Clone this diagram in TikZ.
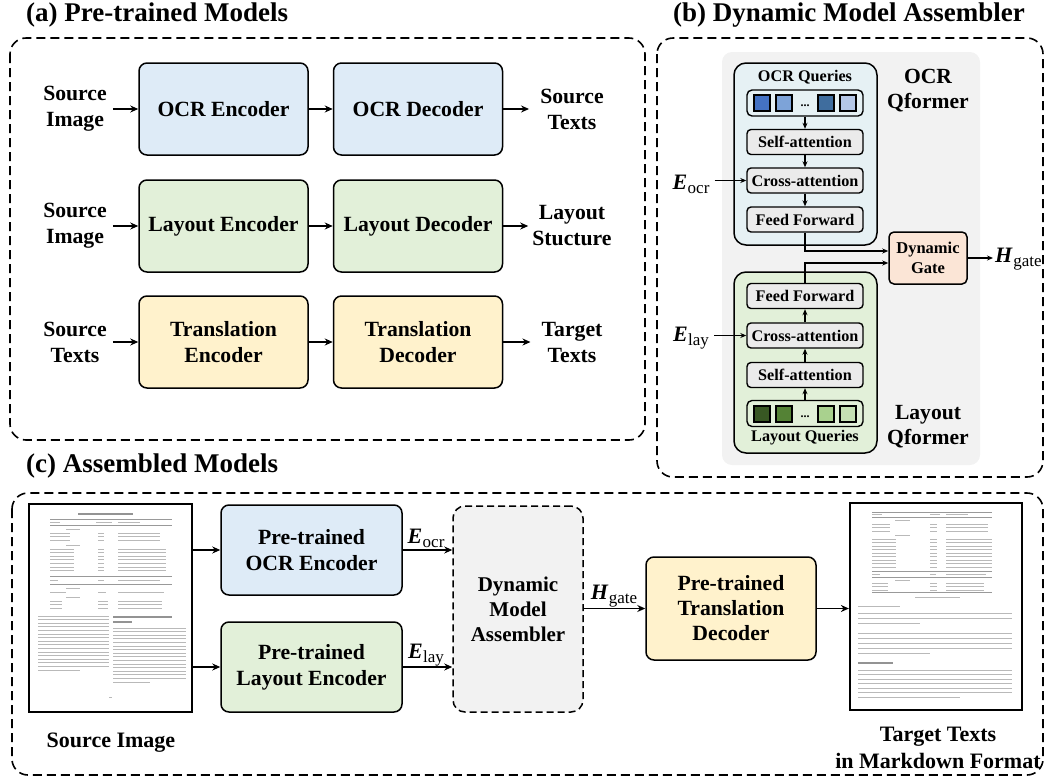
\documentclass[tikz,border=0pt]{standalone}
\usepackage{fontspec}
\setmainfont{Liberation Serif}[BoldFont={Liberation Serif Bold}, ItalicFont={Liberation Serif Italic}, BoldItalicFont={Liberation Serif Bold Italic}]
\usetikzlibrary{arrows.meta}
\definecolor{blueF}{HTML}{DEEBF7}
\definecolor{greenF}{HTML}{E2F0D9}
\definecolor{yellowF}{HTML}{FFF2CC}
\definecolor{grayF}{HTML}{F2F2F2}
\definecolor{ocrF}{HTML}{E6F1F4}
\definecolor{layerF}{HTML}{EBEBEB}
\definecolor{gateF}{HTML}{FBE5D6}
\definecolor{qbA}{HTML}{4472C4}
\definecolor{qbB}{HTML}{7DA3D8}
\definecolor{qbC}{HTML}{3F6D9E}
\definecolor{qbD}{HTML}{B4C7E7}
\definecolor{qgA}{HTML}{385723}
\definecolor{qgB}{HTML}{548235}
\definecolor{qgC}{HTML}{A9D18E}
\definecolor{qgD}{HTML}{C5E0B4}
\newcommand{\Elab}[1]{\textbf{\textit{E}}\kern0.5pt\raisebox{-4pt}{\fontsize{17}{17}\selectfont #1}}
\newcommand{\Hlab}[1]{\textbf{\textit{H}}\kern0.5pt\raisebox{-4pt}{\fontsize{17}{17}\selectfont #1}}
\newcommand{\rowsx}[5]{\foreach \k in {0,...,#4}{\draw[docl] (#1,{#3+\k*#5}) -- (#2,{#3+\k*#5});}}
\begin{document}
\begin{tikzpicture}[x=1pt,y=-1pt,
  frame/.style={draw=black, line width=1.6pt, dash pattern=on 9pt off 5pt, rounded corners=16pt},
  ttl/.style={font=\bfseries\fontsize{27}{30}\selectfont, anchor=west, inner sep=0pt},
  box/.style={draw=black, line width=1.5pt, rounded corners=8pt, align=center, inner sep=0pt, font=\bfseries\fontsize{21.7}{26}\selectfont},
  lbl/.style={align=center, inner sep=0pt, font=\bfseries\fontsize{21.7}{26}\selectfont},
  arr/.style={-{Stealth[length=8pt,width=7pt]}, line width=1.5pt},
  sarr/.style={-{Stealth[length=6pt,width=5pt]}, line width=1.3pt},
  layer/.style={draw=black, line width=1.4pt, rounded corners=4pt, fill=layerF, minimum width=116pt, minimum height=25pt, inner sep=0pt, font=\bfseries\fontsize{16.2}{18}\selectfont},
  qrow/.style={draw=black, line width=1.4pt, rounded corners=5pt, minimum width=116pt, minimum height=26pt, inner sep=0pt},
  sq/.style={draw=black, line width=1.2pt, minimum size=16pt, inner sep=0pt},
  small/.style={font=\bfseries\fontsize{16.2}{18}\selectfont, inner sep=0pt, align=center},
  qf/.style={font=\bfseries\fontsize{21.6}{25}\selectfont, inner sep=0pt, align=center},
  doc/.style={draw=black, line width=2.2pt, fill=white},
  docl/.style={line width=0.8pt, gray!55},
  docr/.style={line width=0.5pt, gray!80},
  docd/.style={line width=1.3pt, gray!85}
]
\useasboundingbox (0,0) rectangle (1045,780);

% ================= (a) =================
\node[ttl] (ta) at (26,15) {(a) Pre-trained Models};
\draw[frame] (10,38) rectangle (645,440);

\node[lbl] (si1) at (75,109) {Source\\Image};
\node[box, fill=blueF, minimum width=169pt, minimum height=92pt] (oe) at (223.5,109) {OCR Encoder};
\node[box, fill=blueF, minimum width=169pt, minimum height=92pt] (od) at (418,109) {OCR Decoder};
\node[lbl] (st1) at (572,109) {Source\\Texts};
\draw[arr, shorten <=6pt] (si1.east) -- (oe.west);
\draw[arr] (oe.east) -- (od.west);
\draw[arr, shorten >=11pt] (od.east) -- (od.east -| st1.west);

\node[lbl] (si2) at (75,226) {Source\\Image};
\node[box, fill=greenF, minimum width=169pt, minimum height=92pt] (le) at (223.5,226) {Layout Encoder};
\node[box, fill=greenF, minimum width=169pt, minimum height=92pt] (ld) at (418,226) {Layout Decoder};
\node[lbl] (ls) at (572,226) {Layout\\Stucture};
\draw[arr, shorten <=6pt] (si2.east) -- (le.west);
\draw[arr] (le.east) -- (ld.west);
\draw[arr, shorten >=4pt] (ld.east) -- (ld.east -| ls.west);

\node[lbl] (sx3) at (75,342) {Source\\Texts};
\node[box, fill=yellowF, minimum width=169pt, minimum height=92pt] (te) at (223.5,342) {Translation\\Encoder};
\node[box, fill=yellowF, minimum width=169pt, minimum height=92pt] (td) at (418,342) {Translation\\Decoder};
\node[lbl] (tt3) at (572,342) {Target\\Texts};
\draw[arr, shorten <=6pt] (sx3.east) -- (te.west);
\draw[arr] (te.east) -- (td.west);
\draw[arr, shorten >=11pt] (td.east) -- (td.east -| tt3.west);

% ================= (b) =================
\node[ttl] (tb) at (673,15) {(b) Dynamic Model Assembler};
\draw[frame] (657,38) rectangle (1043,477);
\fill[grayF, rounded corners=10pt] (722,52) rectangle (980,465);

\node[draw=black, line width=1.5pt, fill=ocrF, rounded corners=12pt, minimum width=143pt, minimum height=182pt, inner sep=0pt] (ocrq) at (805.5,154) {};
\node[small] (oqt) at (805,77) {OCR Queries};
\node[qrow, fill=ocrF] (oqr) at (805,103) {};
\node[sq, fill=qbA] (ob1) at (762,103) {};
\node[sq, fill=qbB] (ob2) at (784,103) {};
\node[font=\bfseries\fontsize{12}{12}\selectfont, inner sep=0pt] (odots) at (805,106) {...};
\node[sq, fill=qbC] (ob3) at (826,103) {};
\node[sq, fill=qbD] (ob4) at (848,103) {};
\node[layer] (osa) at (805,142) {Self-attention};
\node[layer] (oca) at (805,180.5) {Cross-attention};
\node[layer] (off) at (805,219.5) {Feed Forward};
\draw[sarr] (oqr) -- (osa);
\draw[sarr] (osa) -- (oca);
\draw[sarr] (oca) -- (off);
\node[qf] (oqf) at (928,90.5) {OCR\\Qformer};

\node[draw=black, line width=1.5pt, fill=greenF, rounded corners=12pt, minimum width=143pt, minimum height=181pt, inner sep=0pt] (layq) at (805.5,362.5) {};
\node[layer] (lff) at (805,296) {Feed Forward};
\node[layer] (lca) at (805,335.5) {Cross-attention};
\node[layer] (lsa) at (805,375) {Self-attention};
\node[qrow, fill=greenF] (lqr) at (805,413.5) {};
\node[sq, fill=qgA] (lb1) at (762,414) {};
\node[sq, fill=qgB] (lb2) at (784,414) {};
\node[font=\bfseries\fontsize{12}{12}\selectfont, inner sep=0pt] (ldots) at (805,417) {...};
\node[sq, fill=qgC] (lb3) at (826,414) {};
\node[sq, fill=qgD] (lb4) at (848,414) {};
\node[small] (lqt) at (805,438) {Layout Queries};
\draw[sarr] (lqr) -- (lsa);
\draw[sarr] (lsa) -- (lca);
\draw[sarr] (lca) -- (lff);
\node[qf] (lqf) at (928,427) {Layout\\Qformer};

\node[draw=black, line width=1.5pt, fill=gateF, rounded corners=5pt, minimum width=78pt, minimum height=52pt, inner sep=0pt, align=center, font=\bfseries\fontsize{16.5}{20}\selectfont] (gate) at (928,258) {Dynamic\\Gate};
\draw[sarr] (off.south) |- ([yshift=7pt]gate.west);
\draw[sarr] (lff.north) |- ([yshift=-5pt]gate.west);
\node[anchor=west, inner sep=0pt, font=\fontsize{22}{22}\selectfont] (hg1) at (995,259) {\Hlab{gate}};
\draw[sarr, shorten >=2pt] (gate.east) -- (gate.east -| hg1.west);

\node[inner sep=0pt, font=\fontsize{22}{22}\selectfont] (eo1) at (691,184) {\Elab{ocr}};
\draw[sarr, shorten <=5pt] (eo1.east |- oca.west) -- (oca.west);
\node[inner sep=0pt, font=\fontsize{22}{22}\selectfont] (el1) at (691,338) {\Elab{lay}};
\draw[sarr, shorten <=5pt] (el1.east |- lca.west) -- (lca.west);

% ================= (c) =================
\node[ttl] (tc) at (26,466) {(c) Assembled Models};
\draw[frame] (12,493) rectangle (1043,775);

\node[doc, minimum width=163pt, minimum height=208pt, inner sep=0pt] (sdoc) at (110.5,608) {};
\begin{scope}
\draw[docd] (78,514) -- (133,514);
\draw[docr] (50,519) -- (172,519);
\draw[docl] (50,522) -- (60,522); \draw[docl] (96,522) -- (112,522); \draw[docl] (118,522) -- (140,522);
\draw[docr] (50,525) -- (172,525);
\draw[docl] (66,529) -- (80,529);
\rowsx{50}{70}{533}{2}{3.6}
\rowsx{98}{104}{533}{2}{3.6}
\rowsx{118}{160}{533}{2}{3.6}
\draw[docl] (66,545) -- (80,545);
\rowsx{50}{74}{549}{6}{3.6}
\rowsx{98}{104}{549}{6}{3.6}
\rowsx{118}{166}{549}{6}{3.6}
\draw[docr] (50,576) -- (172,576);
\draw[docl] (50,580) -- (58,580); \draw[docl] (98,580) -- (104,580); \draw[docl] (118,580) -- (160,580);
\draw[docr] (50,584) -- (172,584);
\draw[docl] (66,588) -- (80,588);
\draw[docl] (50,592) -- (66,592); \draw[docl] (98,592) -- (106,592); \draw[docl] (118,592) -- (164,592);
\draw[docl] (66,597) -- (80,597);
\rowsx{50}{62}{601}{2}{3.6}
\rowsx{98}{108}{601}{2}{3.6}
\rowsx{118}{162}{601}{2}{3.6}
\rowsx{38}{109}{616}{14}{3.6}
\draw[docl] (38,670) -- (80,670);
\draw[docd] (113,617) -- (172,617);
\draw[docd] (113,622) -- (132,622);
\rowsx{113}{186}{628}{14}{3.6}
\draw[docl] (113,682) -- (150,682);
\draw[docl] (109,697) -- (112,697);
\end{scope}
\node[lbl, font=\bfseries\fontsize{22}{26}\selectfont] (sil) at (111,743) {Source Image};

\node[box, fill=blueF, minimum width=181pt, minimum height=90pt] (poe) at (311.5,550) {Pre-trained\\OCR Encoder};
\node[box, fill=greenF, minimum width=181pt, minimum height=90pt] (ple) at (311.5,667) {Pre-trained\\Layout Encoder};
\draw[arr] (sdoc.east |- poe.west) -- (poe.west);
\draw[arr] (sdoc.east |- ple.west) -- (ple.west);

\node[draw=black, line width=1.5pt, dash pattern=on 7pt off 4pt, fill=grayF, rounded corners=12pt, minimum width=130pt, minimum height=206pt, inner sep=0pt, align=center, font=\bfseries\fontsize{21}{25}\selectfont] (dma) at (518,609) {Dynamic\\Model\\Assembler};
\draw[arr] (poe.east) -- (poe.east -| dma.west);
\draw[arr] (ple.east) -- (ple.east -| dma.west);
\node[inner sep=0pt, font=\fontsize{22}{22}\selectfont] (eo2) at (426,538) {\Elab{ocr}};
\node[inner sep=0pt, font=\fontsize{22}{22}\selectfont] (el2) at (426,655) {\Elab{lay}};

\node[box, fill=yellowF, minimum width=170pt, minimum height=103pt, font=\bfseries\fontsize{21.7}{25}\selectfont] (ptd) at (731,608.5) {Pre-trained\\Translation\\Decoder};
\draw[arr] (dma.east |- ptd.west) -- (ptd.west);
\node[inner sep=0pt, font=\fontsize{22}{22}\selectfont] (hg2) at (614,596) {\Hlab{gate}};

\node[doc, minimum width=172pt, minimum height=207pt, inner sep=0pt] (tdoc) at (936,606.5) {};
\draw[arr] (ptd.east) -- (tdoc.west |- ptd.east);
\begin{scope}
\draw[docr] (872,512) -- (992,512);
\draw[docl] (872,514.5) -- (882,514.5); \draw[docl] (930,514.5) -- (940,514.5); \draw[docl] (946,514.5) -- (968,514.5);
\draw[docr] (872,517) -- (992,517);
\draw[docl] (895,520) -- (910,520);
\rowsx{872}{890}{524}{2}{3.5}
\rowsx{930}{937}{524}{2}{3.5}
\rowsx{946}{988}{524}{2}{3.5}
\draw[docl] (895,535) -- (910,535);
\rowsx{872}{896}{539}{8}{3.5}
\rowsx{930}{937}{539}{8}{3.5}
\rowsx{946}{992}{539}{8}{3.5}
\draw[docr] (872,571) -- (992,571);
\draw[docl] (872,574) -- (880,574); \draw[docl] (930,574) -- (936,574); \draw[docl] (946,574) -- (986,574);
\draw[docr] (872,577) -- (992,577);
\draw[docl] (895,580) -- (910,580);
\rowsx{872}{888}{583}{2}{3.5}
\rowsx{930}{937}{583}{2}{3.5}
\rowsx{946}{984}{583}{2}{3.5}
\draw[docr] (872,592) -- (992,592);
\draw[docl] (915,597) -- (960,597);
\draw[docl] (858,606) -- (900,606);
\rowsx{858}{1012}{613}{1}{5}
\draw[docl] (858,623) -- (920,623);
\rowsx{858}{1012}{633}{3}{5}
\draw[docl] (858,653) -- (930,653);
\draw[docd] (858,663) -- (893,663);
\rowsx{858}{1012}{670}{5}{4.5}
\draw[docl] (858,697) -- (960,697);
\end{scope}
\node[lbl, font=\bfseries\fontsize{22}{27}\selectfont] (tgl) at (938,748) {Target Texts\\in Markdown Format};
\end{tikzpicture}
\end{document}
